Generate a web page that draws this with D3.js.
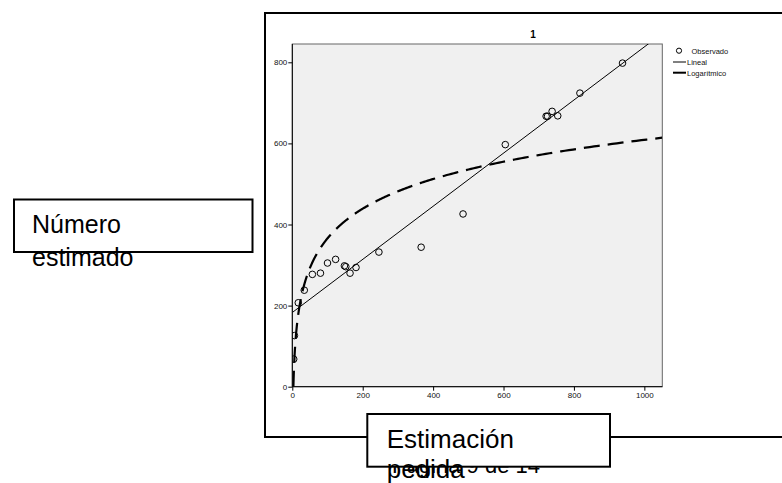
<!DOCTYPE html>
<html><head><meta charset="utf-8">
<script src="https://cdn.jsdelivr.net/npm/d3@7"></script>
<style>body{margin:0;background:#fff}svg{display:block}text{font-family:"Liberation Sans",Arial,sans-serif}</style>
</head><body>
<svg id="c" width="782" height="483"></svg>
<script>
// ---- data ----
const observedX = [4, 6, 17, 34, 57, 80, 100, 123, 148, 152, 164, 181, 246, 366, 485, 605, 721, 725, 738, 754, 817, 938];
const observedY = [68, 126, 207, 238, 277, 280, 305, 314, 298, 296, 280, 294, 332, 344, 426, 597, 667, 667, 679, 668, 724, 798];
const linearCoef = [183, 0.655];      // intercept, slope
const logCoef = [-120, 105.5];        // a + b*ln(x)
const xTicks = [0, 200, 400, 600, 800, 1000];
const yTicks = [0, 200, 400, 600, 800];
const legendLabels = ["Observado", "Lineal", "Logarítmico"];
const chartTitle = "1";
const yLabelLines = ["Número", "estimado"];
const xLabelLines = ["Estimación", "pedida"];
const footerText = "Página 9 de 14";

const svg = d3.select("#c");
const L = 292.3, R = 662.3, T = 44, B = 386.7;
const x = d3.scaleLinear().domain([0, 1051]).range([L, R]);
const y = d3.scaleLinear().domain([0, 800]).range([B, 62.3]);

// outer frame (open on the right)
svg.append("path").attr("d", `M790,13H265V437H790`).attr("fill","none").attr("stroke","#000").attr("stroke-width",2);

// plot background
svg.append("rect").attr("x",L).attr("y",T).attr("width",R-L).attr("height",B-T)
  .attr("fill","#f0f0f0").attr("stroke","#666").attr("stroke-width",1);

svg.append("clipPath").attr("id","clip").append("rect").attr("x",L).attr("y",T).attr("width",R-L).attr("height",B-T);

// axes
const gx = svg.append("g").attr("transform",`translate(0,${B})`)
  .call(d3.axisBottom(x).tickValues(xTicks).tickSize(4).tickPadding(2).tickFormat(d3.format("d")));
const gy = svg.append("g").attr("transform",`translate(${L},0)`)
  .call(d3.axisLeft(y).tickValues(yTicks).tickSize(4).tickPadding(1).tickFormat(d3.format("d")));
[gx, gy].forEach(g => {
  g.select(".domain").remove();
  g.selectAll("line").attr("stroke","#000");
  g.selectAll("text").attr("font-size",8).attr("fill","#111").style("font-family","Liberation Sans, Arial");
});
svg.append("line").attr("x1",L).attr("x2",R).attr("y1",B).attr("y2",B).attr("stroke","#000");
svg.append("line").attr("x1",L).attr("x2",L).attr("y1",T).attr("y2",B).attr("stroke","#000");

const plot = svg.append("g").attr("clip-path","url(#clip)");

// linear fit
const linX = [0, 1051];
plot.append("path").datum(linX)
  .attr("d", d3.line().x(d => x(d)).y(d => y(linearCoef[0] + linearCoef[1]*d)))
  .attr("fill","none").attr("stroke","#000").attr("stroke-width",1);

// logarithmic fit
const x0 = Math.exp(-logCoef[0]/logCoef[1]);
const logX = d3.range(0, 401).map(i => x0 * Math.pow(1051/x0, i/400));
plot.append("path").datum(logX)
  .attr("d", d3.line().x(d => x(d)).y(d => y(logCoef[0] + logCoef[1]*Math.log(d))))
  .attr("fill","none").attr("stroke","#000").attr("stroke-width",2.2).attr("stroke-dasharray","16,8");

// observed points
plot.selectAll("circle").data(observedX.map((d,i)=>[d, observedY[i]])).join("circle")
  .attr("cx", d => x(d[0])).attr("cy", d => y(d[1])).attr("r",3.3)
  .attr("fill","none").attr("stroke","#000").attr("stroke-width",1);

// title
svg.append("text").attr("x",533).attr("y",38).attr("text-anchor","middle")
  .attr("font-size",10).attr("font-weight","bold").text(chartTitle);

// legend
const lg = svg.append("g");
lg.append("circle").attr("cx",679).attr("cy",50.7).attr("r",2.6).attr("fill","none").attr("stroke","#000");
lg.append("line").attr("x1",673).attr("x2",686).attr("y1",62).attr("y2",62).attr("stroke","#000").attr("stroke-width",1);
lg.append("line").attr("x1",673).attr("x2",686).attr("y1",72.7).attr("y2",72.7).attr("stroke","#000").attr("stroke-width",2);
[[691.5,53.5],[687,65],[687,75.5]].forEach((p,i)=>{
  lg.append("text").attr("x",p[0]).attr("y",p[1]).attr("font-size",7.5).attr("fill","#111").text(legendLabels[i]);
});

// footer text (behind x label box)
svg.append("text").attr("x",392).attr("y",473).attr("font-size",22).attr("fill","#000").text(footerText);

// y label box
svg.append("rect").attr("x",14).attr("y",199.5).attr("width",238.5).attr("height",52.5)
  .attr("fill","#fff").attr("stroke","#000").attr("stroke-width",2);
svg.append("text").attr("x",32).attr("y",233).attr("font-size",25).text(yLabelLines[0]);
svg.append("text").attr("x",32).attr("y",266).attr("font-size",25).text(yLabelLines[1]);

// x label box
svg.append("rect").attr("x",367.3).attr("y",414).attr("width",242.7).attr("height",52.7)
  .attr("fill","#fff").attr("stroke","#000").attr("stroke-width",2);
svg.append("text").attr("x",386.7).attr("y",447.7).attr("font-size",26).text(xLabelLines[0]);
svg.append("text").attr("x",386.7).attr("y",478).attr("font-size",26).text(xLabelLines[1]);
</script>
</body></html>
